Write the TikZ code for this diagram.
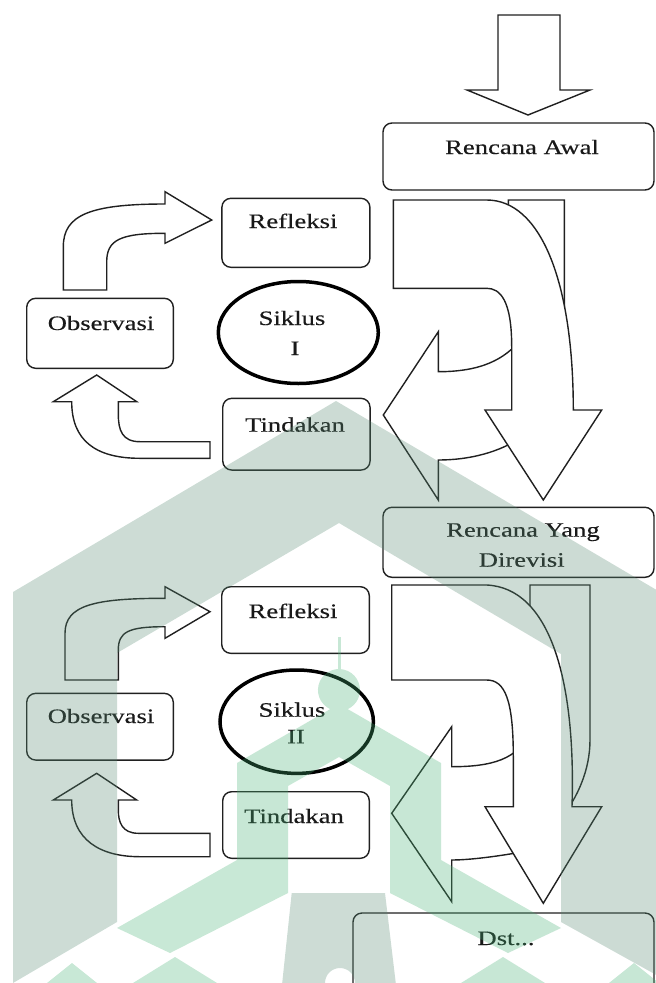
\documentclass[tikz,border=0pt]{standalone}
\usepackage{fontspec}
\setmainfont{Liberation Serif}[FakeStretch=1.3, FakeBold=0.3]
\usetikzlibrary{shapes.geometric}
\definecolor{wmgrey}{RGB}{88,138,115}
\definecolor{wmgreen}{RGB}{72,178,118}
\definecolor{ink}{RGB}{32,32,32}
\tikzset{
  box/.style={draw=ink, line width=1.4pt, rounded corners=9pt, fill=white, inner sep=0pt},
  blk/.style={draw=ink, line width=1.4pt, fill=white, line join=miter, miter limit=10},
  lbl/.style={font=\fontsize{20.5}{24}\selectfont, text=black!90, inner sep=0pt, anchor=base},
  cyc/.style={draw=black, line width=3.5pt, ellipse, fill=white, inner sep=0pt},
  wm/.style={fill opacity=0.3}
}
\begin{document}
\begin{tikzpicture}[x=1pt,y=-1pt]
\useasboundingbox (0,0) rectangle (656,983);

% ---- top block arrow
\draw[blk] (498,15) -- (560,15) -- (560,90) -- (590,90) -- (528,115) -- (467,90) -- (498,90) -- cycle;

% ---- boxes
\node[box, minimum width=271, minimum height=67] (awal) at (518.5,156.5) {};
\node[box, minimum width=271, minimum height=70] (revisi) at (518.5,542.3) {};
\node[box, minimum width=301, minimum height=100] (dst) at (503.5,963) {};
\node[box, minimum width=148, minimum height=69] (refl1) at (295.9,232.8) {};
\node[box, minimum width=146.6, minimum height=70] (obs1) at (100,333.3) {};
\node[box, minimum width=147.3, minimum height=71.7] (tind1) at (296.4,434.2) {};
\node[box, minimum width=147.6, minimum height=66.6] (refl2) at (295.5,620) {};
\node[box, minimum width=146.6, minimum height=66.7] (obs2) at (100,726.7) {};
\node[box, minimum width=146.6, minimum height=66.6] (tind2) at (296,825) {};

% ---- right big arrows, cycle I
\draw[blk] (508.3,200) -- (564.3,200) -- (564.3,360) .. controls (560,430) and (500,460) .. (438.3,460)
  -- (438.3,500) -- (383.3,415) -- (438.3,331.7) -- (438.3,371.7)
  .. controls (480,371.7) and (505,360) .. (522,338) -- (522,300) -- (508.3,240) -- cycle;
\draw[blk] (393.3,200) -- (486.7,200) .. controls (540,200) and (573.3,280) .. (573.3,410)
  -- (601.7,410) -- (543.3,500) -- (485,410) -- (511.7,410) -- (511.7,346.7)
  .. controls (511.7,300) and (500,288.3) .. (486.7,288.3) -- (393.3,288.3) -- cycle;

% ---- right big arrows, cycle II
\draw[blk] (530,585) -- (590,585) -- (590,740) .. controls (590,800) and (540,850) .. (510,854)
  .. controls (485,858) and (465,860) .. (451.7,860) -- (451.7,901.7) -- (391.7,813.3)
  -- (451.7,726.7) -- (451.7,766.7) .. controls (490,766.7) and (520,760) .. (530,730) -- cycle;
\draw[blk] (391.7,585) -- (486.7,585) .. controls (550,588) and (576,680) .. (572,806.7)
  -- (601.7,806.7) -- (543.3,903.3) -- (485,806.7) -- (513.3,806.7) -- (513.3,756.7)
  .. controls (513.3,700) and (505,680) .. (486.7,680) -- (391.7,680) -- cycle;

% ---- cycle arrows I
\draw[blk] (63.3,290) -- (63.3,246.7) .. controls (63.3,215) and (90,204) .. (165,204)
  -- (165,191.7) -- (211.7,220) -- (165,243.3) -- (165,233.3)
  .. controls (120,233.3) and (106.7,240) .. (106.7,262) -- (106.7,290) -- cycle;
\draw[blk] (210,441.7) -- (140,441.7) .. controls (122,441.7) and (118.3,430) .. (118.3,414)
  -- (118.3,401.7) -- (136.7,401.7) -- (96.7,375) -- (53.3,401.7) -- (71.7,401.7)
  .. controls (71.7,440) and (95,458.3) .. (140,458.3) -- (210,458.3) -- cycle;

% ---- cycle arrows II
\draw[blk] (65,680) -- (65,633.3) .. controls (65,605) and (95,598.3) .. (165,598.3)
  -- (165,586.7) -- (210,611.7) -- (165,638.3) -- (165,626.7)
  .. controls (128,626.7) and (118.3,632) .. (118.3,650) -- (118.3,680) -- cycle;
\draw[blk] (210,833.3) -- (138.3,833.3) .. controls (122,833.3) and (118.3,822) .. (118.3,810)
  -- (118.3,800) -- (136.7,800) -- (96.7,773.3) -- (53.3,800) -- (71.7,800)
  .. controls (71.7,840) and (100,856.7) .. (140,856.7) -- (210,856.7) -- cycle;

% ---- cycle ellipses
\node[cyc, minimum width=160, minimum height=102] (sik1) at (298.3,332.5) {};
\node[cyc, minimum width=153.4, minimum height=103.4] (sik2) at (296.7,721.7) {};

% ---- texts
\node[lbl] (tawal) at (522,154) {Rencana Awal};
\node[lbl] (trev1) at (523,536.7) {Rencana Yang};
\node[lbl] (trev2) at (521.7,566.7) {Direvisi};
\node[lbl] (tdst) at (506,945) {Dst...};
\node[lbl] (trefl1) at (293,228) {Refleksi};
\node[lbl] (tobs1) at (101,330) {Observasi};
\node[lbl] (tsik1a) at (292,325) {Siklus};
\node[lbl] (tsik1b) at (295,355) {I};
\node[lbl] (ttind1) at (295,431.7) {Tindakan};
\node[lbl] (trefl2) at (293,618) {Refleksi};
\node[lbl] (tobs2) at (101,723) {Observasi};
\node[lbl] (tsik2a) at (292,716.7) {Siklus};
\node[lbl] (tsik2b) at (296,743.3) {II};
\node[lbl] (ttind2) at (294,823) {Tindakan};

% ---- watermark
\fill[wm, wmgrey] (13,592) -- (336,401) -- (660,592) -- (660,977) -- (561,922) -- (561,654)
  -- (339,523) -- (117,653) -- (117,922) -- (13,983) -- cycle;
\fill[wm, wmgrey, even odd rule] (291.7,893) -- (385,893) -- (396,985) -- (282,985) -- cycle
  (340,983) circle (15);
\fill[wm, wmgreen] (288,786) -- (288,893) -- (170,953) -- (117,928) -- (237,860) -- (237,763)
  -- (330.2,709.1) arc[start angle=114.7, end angle=425.3, radius=21]
  -- (441,763) -- (441,860) -- (561,928) -- (508,953) -- (390,893) -- (390,786) -- (339,757) -- cycle;
\fill[wm, wmgreen] (337.5,637) rectangle (340.5,669.3);
\fill[wm, wmgreen] (133,983) -- (175,957) -- (217,983) -- cycle;
\fill[wm, wmgreen] (461,983) -- (503,957) -- (545,983) -- cycle;
\fill[wm, wmgreen] (47,983) -- (72,963) -- (97,983) -- cycle;
\fill[wm, wmgreen] (609,983) -- (634,963) -- (659,983) -- cycle;
\end{tikzpicture}
\end{document}
